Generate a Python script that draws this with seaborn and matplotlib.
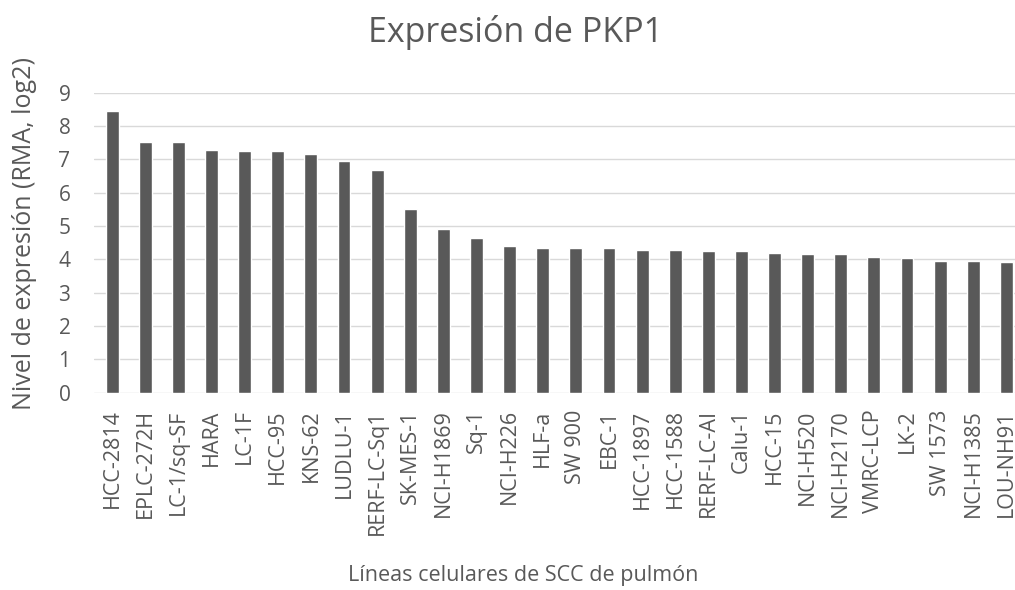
import matplotlib
matplotlib.use("Agg")
import matplotlib.pyplot as plt
import seaborn as sns
import pandas as pd

# PKP1 expression per lung SCC cell line (RMA, log2)
cell_lines = [
    "HCC-2814", "EPLC-272H", "LC-1/sq-SF", "HARA", "LC-1F", "HCC-95", "KNS-62",
    "LUDLU-1", "RERF-LC-Sq1", "SK-MES-1", "NCI-H1869", "Sq-1", "NCI-H226", "HLF-a",
    "SW 900", "EBC-1", "HCC-1897", "HCC-1588", "RERF-LC-AI", "Calu-1", "HCC-15",
    "NCI-H520", "NCI-H2170", "VMRC-LCP", "LK-2", "SW 1573", "NCI-H1385", "LOU-NH91",
]
expression = [
    8.46, 7.51, 7.51, 7.29, 7.25, 7.25, 7.15,
    6.95, 6.68, 5.51, 4.90, 4.65, 4.39, 4.34,
    4.33, 4.33, 4.29, 4.29, 4.25, 4.25, 4.20,
    4.17, 4.17, 4.08, 4.03, 3.95, 3.95, 3.91,
]
y_ticks = [0, 1, 2, 3, 4, 5, 6, 7, 8, 9]

title = "Expresión de PKP1"
x_label = "Líneas celulares de SCC de pulmón"
y_label = "Nivel de expresión (RMA, log2)"

TEXT = "#595959"
BAR = "#595959"
GRID = "#d9d9d9"

sns.set_theme(style="white")
plt.rcParams["font.family"] = ["Open Sans", "DejaVu Sans"]

df = pd.DataFrame({"line": cell_lines, "value": expression})

fig = plt.figure(figsize=(10.15, 5.9), dpi=100)
ax = fig.add_axes([94 / 1015, 1 - 392.7 / 590, 921 / 1015, 300 / 590])

sns.barplot(data=df, x="line", y="value", color=BAR, width=0.39,
            saturation=1, ax=ax, zorder=3)

ax.set_ylim(0, 9)
ax.set_xlim(-0.55, 27.26)
ax.set_yticks(y_ticks)
ax.set_yticklabels([str(t) for t in y_ticks])
ax.yaxis.grid(True, color=GRID, linewidth=1.0, zorder=0)
ax.xaxis.grid(False)
ax.set_axisbelow(True)
for s in ax.spines.values():
    s.set_visible(False)

ax.tick_params(axis="y", length=0, pad=17, labelsize=15, labelcolor=TEXT)
ax.tick_params(axis="x", length=0, pad=12, labelsize=15.5, labelcolor=TEXT,
               labelrotation=90)
ax.set_xlabel("")
ax.set_ylabel("")

fig.text(516 / 1015, 1 - 33 / 590, title, ha="center", va="center",
         fontsize=24.5, color=TEXT)
fig.text(523 / 1015, 1 - 575 / 590, x_label, ha="center", va="center",
         fontsize=15.5, color=TEXT)
fig.text(25 / 1015, 1 - 234 / 590, y_label, ha="center", va="center",
         rotation=90, fontsize=18, color=TEXT)

fig.savefig("out.png", dpi=100, facecolor="white")
